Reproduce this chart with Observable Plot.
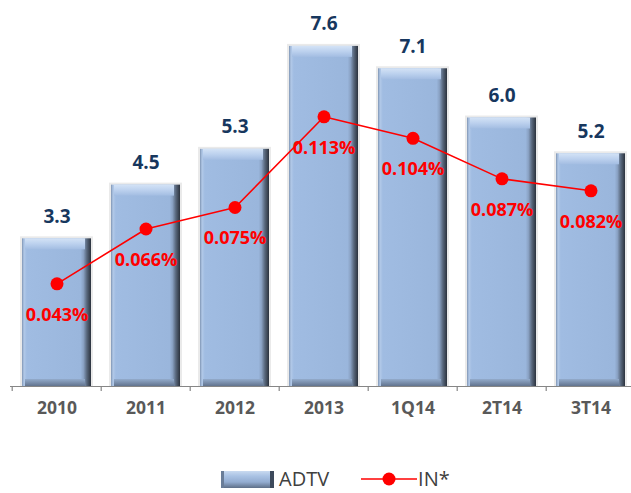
<!DOCTYPE html>
<html><head><meta charset="utf-8">
<script src="https://cdn.jsdelivr.net/npm/d3@7"></script>
<script src="https://cdn.jsdelivr.net/npm/@observablehq/plot@0.6"></script>
<style>
body{margin:0;background:#fff;font-family:"Open Sans",sans-serif;}
#wrap{position:relative;width:631px;height:493px;overflow:hidden;}
#legend{position:absolute;left:221px;top:467px;height:24px;display:flex;align-items:center;font-size:20px;color:#404040;line-height:24px;}
#legend .bar{width:53px;height:17px;box-sizing:border-box;border-left:3px solid #6a7d98;border-right:4px solid #3d4a5c;
 background:linear-gradient(to bottom,#c9daf0 0%,#a9c2e4 30%,#93acd0 65%,#5e6f88 100%);margin-right:5px;}
#legend svg{margin-left:32px;margin-right:1px;}
</style></head><body><div id="wrap"><div id="chart"></div>
<div id="legend"><div class="bar"></div><span>ADTV</span>
<svg width="56" height="20"><line x1="0" y1="10" x2="56" y2="10" stroke="#ff0000" stroke-width="1.5"/><circle cx="28" cy="10" r="6.5" fill="#ff0000"/></svg><span>IN*</span></div>
</div>
<script>
const categories = ["2010", "2011", "2012", "2013", "1Q14", "2T14", "3T14"];
const adtv = [3.3, 4.5, 5.3, 7.6, 7.1, 6.0, 5.2];
const inPct = [0.043, 0.066, 0.075, 0.113, 0.104, 0.087, 0.082];

const yMax = 8;       // left (ADTV) scale maximum
const pctMax = 0.15;  // secondary (IN %) scale maximum, aligned to the same baseline
const rows = categories.map((c, i) => ({cat: c, adtv: adtv[i], inp: inPct[i]}));
const pctY = d => d.inp * yMax / pctMax;

const x0 = 10, x1 = 637.2, step = (x1 - x0) / categories.length;

const chart = Plot.plot({
  width: 631, height: 440,
  marginTop: 28, marginBottom: 54, marginLeft: 10, marginRight: 0,
  x: {domain: categories, range: [x0, x1], paddingInner: 0.23, paddingOuter: 0.115, axis: null},
  y: {domain: [0, yMax], axis: null},
  style: {fontFamily: "Open Sans", background: "transparent", overflow: "visible"},
  marks: [
    Plot.barY(rows, {x: "cat", y: "adtv", fill: "#c4c4c4", fillOpacity: 0.35, insetLeft: -2, insetRight: -2, insetTop: -2}),
    Plot.barY(rows, {x: "cat", y: "adtv", fill: "url(#gBody)"}),
    Plot.barY(rows, {x: "cat", y1: "adtv", y2: "adtv", insetBottom: -11, insetLeft: 3, insetRight: 6, fill: "url(#gTop)"}),
    Plot.barY(rows, {x: "cat", y1: 0, y2: 0, insetTop: -7, insetLeft: 3, insetRight: 6, fill: "url(#gBot)"}),
    Plot.ruleY([0], {stroke: "#868686", strokeWidth: 1.2}),
    Plot.ruleX(categories, {x: d => d, dx: -step / 2, y1: 0, y2: -0.11, stroke: "#868686", strokeWidth: 1.2}),
    Plot.text(categories, {x: d => d, frameAnchor: "bottom", dy: 27, text: d => d, fill: "#595959",
      fontSize: 17.5, fontWeight: "bold"}),
    Plot.text(rows, {x: "cat", y: "adtv", dy: -22, text: d => d.adtv.toFixed(1), fill: "#17375e",
      fontSize: 19, fontWeight: "bold"}),
    Plot.line(rows, {x: "cat", y: pctY, stroke: "#ff0000", strokeWidth: 1.6}),
    Plot.dot(rows, {x: "cat", y: pctY, r: 6.5, fill: "#ff0000"}),
    Plot.text(rows, {x: "cat", y: pctY, dy: 31, text: d => d.inp.toFixed(3) + "%", fill: "#ff0000",
      fontSize: 18, fontWeight: "bold"})
  ]
});
document.getElementById("chart").appendChild(chart);

const defs = d3.select(chart).insert("defs", ":first-child");
function grad(id, horiz, stops) {
  const g = defs.append("linearGradient").attr("id", id)
    .attr("x1", 0).attr("y1", 0).attr("x2", horiz ? 1 : 0).attr("y2", horiz ? 0 : 1);
  stops.forEach(([o, c]) => g.append("stop").attr("offset", o).attr("stop-color", c));
}
grad("gBody", true, [[0, "#7f95b4"], [0.03, "#b2c9e8"], [0.07, "#a0bce2"], [0.85, "#9ab6dc"], [0.89, "#8aa2c4"], [0.94, "#58677c"], [1, "#2b323d"]]);
grad("gTop", false, [[0, "#d4e3f6"], [0.5, "#bcd1ee"], [1, "#a3bde2"]]);
grad("gBot", false, [[0, "#93abcb"], [1, "#62748f"]]);
</script></body></html>
